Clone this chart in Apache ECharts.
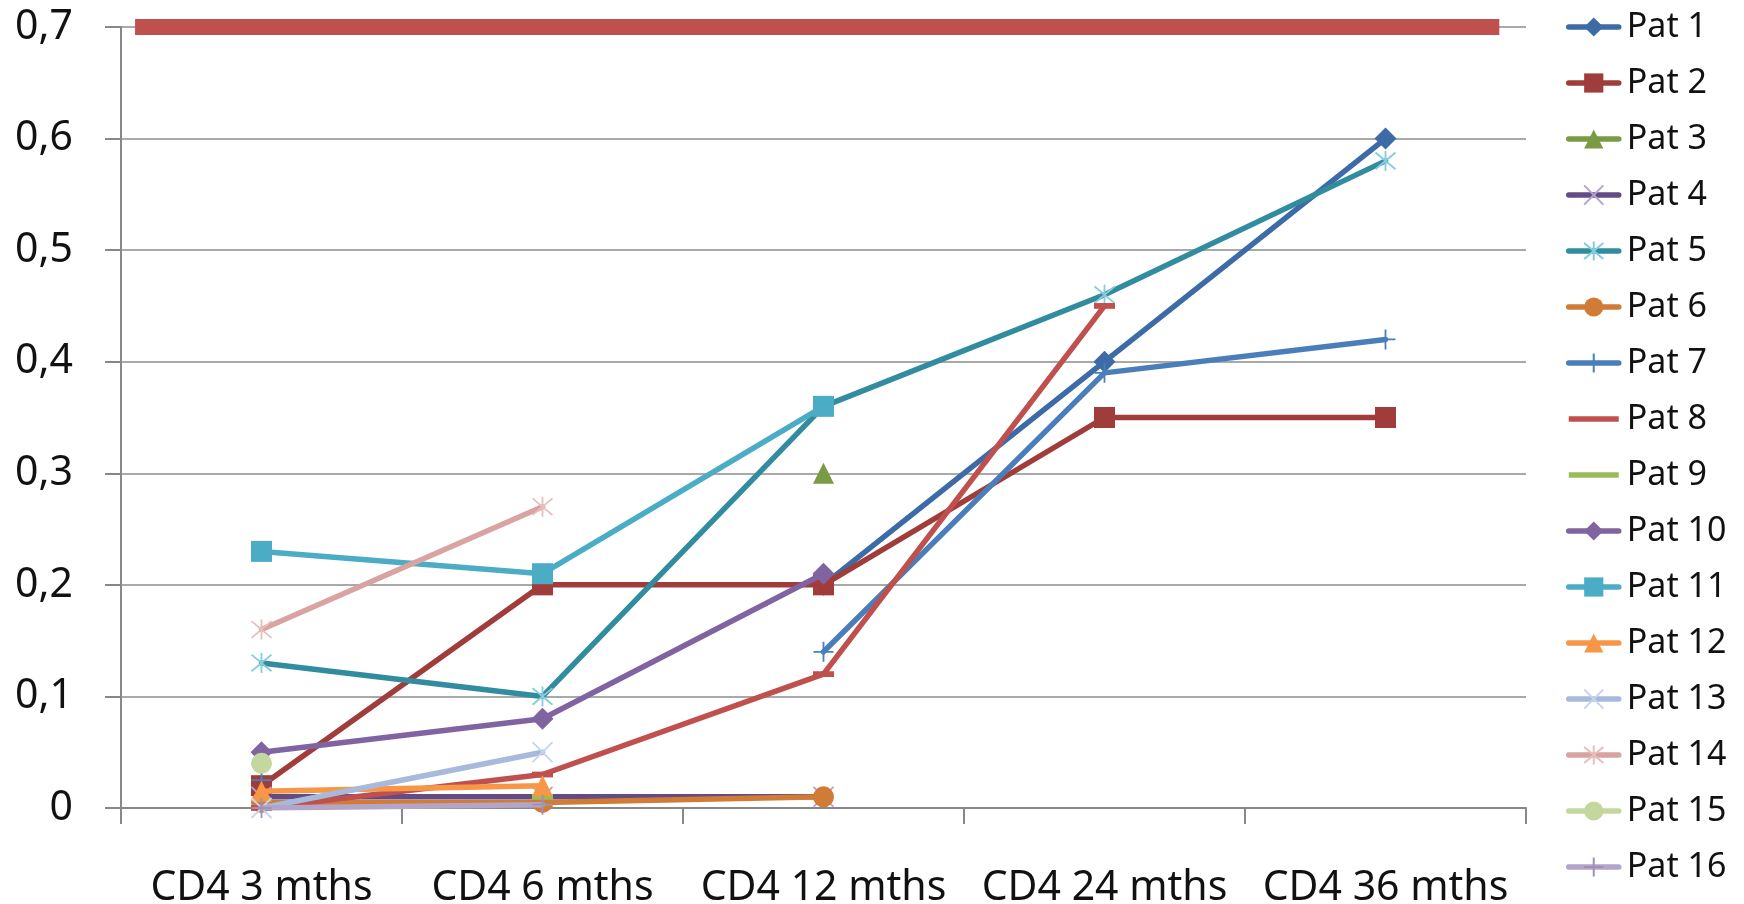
<!DOCTYPE html>
<html>
<head>
<meta charset="utf-8">
<script src="https://cdn.jsdelivr.net/npm/echarts@6/dist/echarts.min.js"></script>
<style>
  html, body { margin: 0; padding: 0; background: #fff; }
  #chart { width: 1744px; height: 904px; }
</style>
</head>
<body>
<div id="chart"></div>
<script>
// Time points (x categories)
const categories = ['CD4 3 mths', 'CD4 6 mths', 'CD4 12 mths', 'CD4 24 mths', 'CD4 36 mths'];

// Y axis ticks
const yTicks = [0, 0.1, 0.2, 0.3, 0.4, 0.5, 0.6, 0.7];

// Reference level drawn as a thick band across the plot
const referenceLevel = 0.7;
const referenceSpan = [0.01, 0.981];

// Per-patient values (null = no measurement)
const pat1  = [null, null, 0.20, 0.40, 0.60];
const pat2  = [0.02, 0.20, 0.20, 0.35, 0.35];
const pat3  = [null, null, 0.30, null, null];
const pat4  = [0.01, 0.01, 0.01, null, null];
const pat5  = [0.13, 0.10, 0.36, 0.46, 0.58];
const pat6  = [0.005, 0.005, 0.01, null, null];
const pat7  = [0.025, null, 0.14, 0.39, 0.42];
const pat8  = [0.00, 0.03, 0.12, 0.45, null];
const pat9  = [null, 0.01, null, null, null];
const pat10 = [0.05, 0.08, 0.21, null, null];
const pat11 = [0.23, 0.21, 0.36, null, null];
const pat12 = [0.015, 0.02, null, null, null];
const pat13 = [0.00, 0.05, null, null, null];
const pat14 = [0.16, 0.27, null, null, null];
const pat15 = [0.04, null, null, null, null];
const pat16 = [0.00, 0.003, null, null, null];

const seriesNames = ['Pat 1','Pat 2','Pat 3','Pat 4','Pat 5','Pat 6','Pat 7','Pat 8',
                     'Pat 9','Pat 10','Pat 11','Pat 12','Pat 13','Pat 14','Pat 15','Pat 16'];
const seriesValues = [pat1, pat2, pat3, pat4, pat5, pat6, pat7, pat8,
                      pat9, pat10, pat11, pat12, pat13, pat14, pat15, pat16];

// Marker shapes
const X_MARK = 'path://M0,0L10,10M10,0L0,10';
const STAR_MARK = 'path://M0,0L10,10M10,0L0,10M5,-1L5,11';
const PLUS_MARK = 'path://M5,0L5,10M0,5L10,5';
const DASH_MARK = 'path://M0,0L20,0L20,5.5L0,5.5Z';
const LINE_ICON = 'path://M0,0L50,0L50,5.5L0,5.5Z';

const LINE_WIDTH = 5.5;

// Line colour, marker colour, marker shape, marker size, stroked marker
const styles = [
  { line: '#3D6BA7', mark: '#3D6BA7', symbol: 'diamond',  size: 22 },
  { line: '#A03C39', mark: '#A03C39', symbol: 'rect',     size: 21 },
  { line: '#7A9A43', mark: '#7A9A43', symbol: 'triangle', size: 21 },
  { line: '#634B86', mark: '#B4A4CC', symbol: X_MARK,     size: 20, stroke: true },
  { line: '#318C9F', mark: '#86CCDD', symbol: STAR_MARK,  size: 20, stroke: true },
  { line: '#D07C36', mark: '#D07C36', symbol: 'circle',   size: 21 },
  { line: '#4A7EBB', mark: '#4A7EBB', symbol: PLUS_MARK,  size: 20, stroke: true },
  { line: '#C0504D', mark: '#C0504D', symbol: DASH_MARK,  size: 21, keep: true, plainIcon: true },
  { line: '#9BBB59', mark: '#9BBB59', symbol: DASH_MARK,  size: 21, keep: true, plainIcon: true },
  { line: '#8064A2', mark: '#8064A2', symbol: 'diamond',  size: 22 },
  { line: '#4BACC6', mark: '#4BACC6', symbol: 'rect',     size: 21 },
  { line: '#F79646', mark: '#F79646', symbol: 'triangle', size: 21 },
  { line: '#A7BADB', mark: '#C6D4EC', symbol: X_MARK,     size: 20, stroke: true },
  { line: '#D9A3A2', mark: '#E8BEBD', symbol: STAR_MARK,  size: 20, stroke: true },
  { line: '#C4D79E', mark: '#C4D79E', symbol: 'circle',   size: 21 },
  { line: '#B2A5C8', mark: '#9E90B8', symbol: PLUS_MARK,  size: 20, stroke: true }
];

const FONT = 'Noto Sans';

const patientSeries = seriesNames.map((name, i) => {
  const s = styles[i];
  return {
    name: name,
    type: 'line',
    data: seriesValues[i],
    connectNulls: false,
    symbol: s.symbol,
    symbolSize: s.size,
    symbolKeepAspect: !!s.keep,
    showAllSymbol: true,
    lineStyle: { color: s.line, width: LINE_WIDTH, join: 'round', cap: 'round' },
    itemStyle: s.stroke
      ? { color: s.mark, borderColor: s.mark, borderWidth: 1.8 }
      : { color: s.mark, borderWidth: 0 },
    emphasis: { disabled: true },
    z: 3 + i
  };
});

// Legend entries; marker-less lines get a plain bar icon
const legendItems = seriesNames.map((name, i) =>
  styles[i].plainIcon ? { name: name, icon: LINE_ICON } : { name: name });

// Thick reference band at the upper level
const referenceSeries = {
  name: 'reference',
  type: 'line',
  xAxisIndex: 1,
  data: referenceSpan.map(x => [x, referenceLevel]),
  symbol: 'none',
  lineStyle: { color: '#C0504D', width: 16, cap: 'butt' },
  emphasis: { disabled: true },
  z: 2
};

const chart = echarts.init(document.getElementById('chart'), null, { renderer: 'canvas' });

chart.setOption({
  animation: false,
  backgroundColor: '#ffffff',
  textStyle: { fontFamily: FONT },
  grid: { left: 121, right: 218, top: 27, bottom: 96, containLabel: false, outerBoundsMode: 'none' },
  legend: {
    orient: 'vertical',
    left: 1561,
    top: 2,
    itemWidth: 50,
    itemHeight: 24,
    itemGap: 16,
    symbolKeepAspect: true,
    data: legendItems,
    selectedMode: false,
    lineStyle: { width: LINE_WIDTH },
    textStyle: { fontFamily: FONT, fontSize: 34, color: '#111', lineHeight: 40, padding: [0, 0, 0, 3] }
  },
  xAxis: [
    {
      type: 'category',
      data: categories,
      boundaryGap: true,
      axisLine: { show: true, lineStyle: { color: '#888', width: 2 } },
      axisTick: { show: true, length: 16, lineStyle: { color: '#888', width: 2 } },
      axisLabel: { fontFamily: FONT, fontSize: 41, color: '#111', margin: 60, interval: 0, hideOverlap: false },
      splitLine: { show: false }
    },
    {
      type: 'value',
      min: 0,
      max: 1,
      show: false
    }
  ],
  yAxis: {
    type: 'value',
    min: yTicks[0],
    max: yTicks[yTicks.length - 1],
    interval: 0.1,
    axisLine: { show: true, lineStyle: { color: '#888', width: 2 } },
    axisTick: { show: true, inside: false, length: 16, lineStyle: { color: '#888', width: 2 } },
    axisLabel: {
      fontFamily: FONT,
      fontSize: 41,
      color: '#111',
      margin: 48,
      formatter: v => (Math.round(v * 10) / 10).toString().replace('.', ',')
    },
    splitLine: { show: true, lineStyle: { color: '#8C8C8C', width: 1.5 } }
  },
  series: [referenceSeries].concat(patientSeries)
});
</script>
</body>
</html>
